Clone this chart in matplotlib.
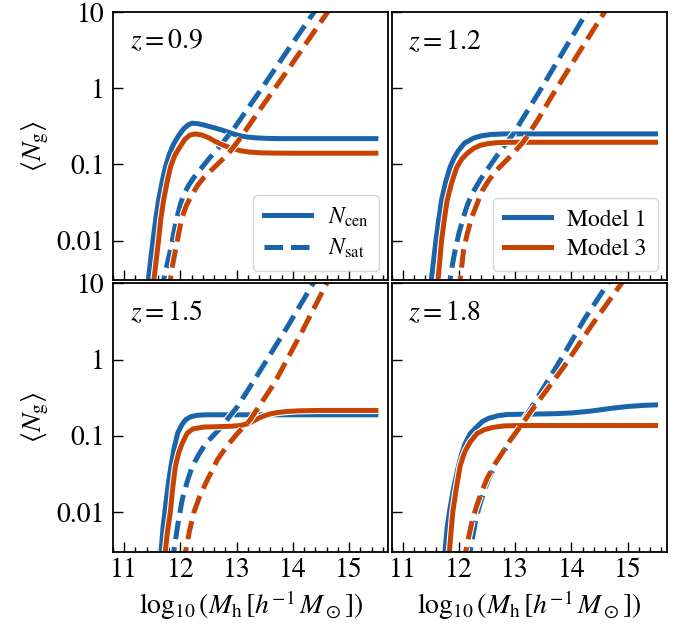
import matplotlib
matplotlib.use('Agg')
import matplotlib.pyplot as plt
import matplotlib.patheffects as pe
from matplotlib.lines import Line2D
from matplotlib.ticker import MultipleLocator, NullLocator, FuncFormatter, LogLocator
import numpy as np

plt.rcParams['font.family'] = 'STIXGeneral'
plt.rcParams['mathtext.fontset'] = 'stix'

blue = '#1964ab'
orange = '#c64304'

redshifts = ['0.9', '1.2', '1.5', '1.8']

# log10 <N>; cen = solid, sat = dashed; 1 = Model 1, 3 = Model 3
# z = 0.9
z09_cen1_x = [11.40, 11.43, 11.47, 11.51, 11.56, 11.61, 11.67, 11.73, 11.8, 11.88, 11.97, 12.06, 12.14, 12.21,
              12.3, 12.4, 12.5, 12.6, 12.72, 12.84, 12.96, 13.08, 13.2, 13.35, 13.55, 13.8, 15.52]
z09_cen1_y = [-2.7, -2.5, -2.25, -2.0, -1.72, -1.47, -1.24, -1.04, -0.87, -0.73, -0.62, -0.53, -0.48, -0.46,
              -0.465, -0.48, -0.5, -0.52, -0.545, -0.575, -0.605, -0.628, -0.642, -0.652, -0.659, -0.662, -0.662]
z09_cen3_x = [11.50, 11.53, 11.57, 11.61, 11.65, 11.70, 11.76, 11.82, 11.9, 12.0, 12.08, 12.17, 12.27, 12.38, 12.5,
              12.62, 12.72, 12.84, 12.96, 13.08, 13.22, 13.4, 13.65, 14.0, 15.52]
z09_cen3_y = [-2.7, -2.5, -2.25, -2.0, -1.72, -1.47, -1.24, -1.04, -0.88, -0.76, -0.67, -0.615, -0.60, -0.615, -0.65,
              -0.7, -0.735, -0.77, -0.8, -0.822, -0.838, -0.847, -0.852, -0.853, -0.853]
z09_sat1_x = [11.67, 11.70, 11.76, 11.82, 11.88, 11.94, 12.0, 12.06, 12.15, 12.24, 12.36, 12.48, 12.58, 12.69, 12.82,
              12.96, 13.43, 13.91, 14.36, 14.5]
z09_sat1_y = [-2.7, -2.52, -2.32, -2.13, -1.9, -1.69, -1.52, -1.39, -1.27, -1.17, -1.06, -0.95, -0.86, -0.77, -0.65,
              -0.52, -0.02, 0.5, 0.98, 1.13]
z09_sat3_x = [11.79, 11.82, 11.86, 11.91, 11.97, 12.03, 12.11, 12.21, 12.31, 12.42, 12.6, 12.84, 13.02, 13.2, 13.49,
              13.91, 14.6, 14.75]
z09_sat3_y = [-2.7, -2.52, -2.32, -2.13, -1.9, -1.69, -1.53, -1.39, -1.27, -1.17, -1.04, -0.87, -0.7, -0.51, -0.2,
              0.24, 0.98, 1.13]
# z = 1.2
z12_cen1_x = [11.48, 11.51, 11.55, 11.59, 11.64, 11.69, 11.76, 11.84, 11.91, 11.99, 12.1, 12.26, 12.4, 12.56, 12.8, 15.54]
z12_cen1_y = [-2.7, -2.5, -2.25, -2.0, -1.72, -1.47, -1.24, -1.04, -0.92, -0.82, -0.72, -0.655, -0.625, -0.608, -0.6, -0.6]
z12_cen3_x = [11.60, 11.63, 11.66, 11.69, 11.74, 11.79, 11.87, 11.96, 12.05, 12.14, 12.26, 12.38, 12.52, 12.68, 12.9, 15.54]
z12_cen3_y = [-2.7, -2.5, -2.25, -2.0, -1.72, -1.47, -1.24, -1.04, -0.93, -0.86, -0.79, -0.75, -0.727, -0.715, -0.71, -0.71]
z12_sat1_x = [11.81, 11.84, 11.88, 11.93, 12.0, 12.08, 12.15, 12.23, 12.38, 12.53, 12.7, 12.97, 13.45, 13.87, 14.26, 14.4]
z12_sat1_y = [-2.7, -2.52, -2.33, -2.13, -1.9, -1.69, -1.53, -1.39, -1.2, -1.04, -0.86, -0.596, -0.02, 0.5, 0.98, 1.15]
z12_sat3_x = [11.99, 12.02, 12.05, 12.08, 12.15, 12.23, 12.32, 12.41, 12.53, 12.65, 12.8, 12.97, 13.15, 13.4, 13.63,
              14.11, 14.59, 14.72]
z12_sat3_y = [-2.7, -2.52, -2.33, -2.13, -1.9, -1.69, -1.52, -1.35, -1.21, -1.09, -0.98, -0.85, -0.70, -0.42, -0.13,
              0.44, 1.0, 1.15]
# z = 1.5
z15_cen1_x = [11.62, 11.655, 11.69, 11.73, 11.78, 11.83, 11.89, 11.95, 12.02, 12.09, 12.18, 12.3, 12.45, 15.52]
z15_cen1_y = [-2.7, -2.52, -2.2, -1.95, -1.65, -1.40, -1.15, -0.965, -0.86, -0.79, -0.75, -0.73, -0.724, -0.724]
z15_cen3_x = [11.70, 11.73, 11.77, 11.82, 11.86, 11.91, 11.97, 12.03, 12.12, 12.22, 12.41, 12.66, 12.9, 13.05, 13.15,
              13.23, 13.31, 13.4, 13.5, 13.6, 13.72, 13.88, 14.1, 14.45, 15.52]
z15_cen3_y = [-2.7, -2.52, -2.25, -2.0, -1.7, -1.4, -1.22, -1.1, -0.965, -0.91, -0.885, -0.88, -0.875, -0.865, -0.85,
              -0.83, -0.8, -0.765, -0.735, -0.712, -0.695, -0.682, -0.672, -0.667, -0.667]
z15_sat1_x = [11.85, 11.88, 11.95, 12.03, 12.12, 12.21, 12.33, 12.45, 12.58, 12.72, 13.02, 13.43, 13.91, 14.36, 14.5]
z15_sat1_y = [-2.7, -2.52, -2.18, -1.84, -1.6, -1.40, -1.24, -1.1, -1.0, -0.89, -0.61, -0.13, 0.44, 1.0, 1.15]
z15_sat3_x = [12.06, 12.09, 12.16, 12.24, 12.34, 12.45, 12.56, 12.66, 12.82, 13.0, 13.23, 13.67, 14.15, 14.6, 14.72]
z15_sat3_y = [-2.7, -2.52, -2.25, -2.0, -1.8, -1.62, -1.46, -1.31, -1.14, -0.98, -0.8, -0.31, 0.35, 1.0, 1.15]
# z = 1.8
z18_cen1_x = [11.72, 11.75, 11.79, 11.83, 11.9, 11.99, 12.05, 12.11, 12.2, 12.32, 12.42, 12.53, 12.7, 12.86, 13.3,
              13.7, 14.0, 14.35, 14.7, 15.0, 15.3, 15.54]
z18_cen1_y = [-2.7, -2.52, -2.2, -2.0, -1.7, -1.4, -1.23, -1.1, -0.97, -0.88, -0.81, -0.77, -0.735, -0.72, -0.715,
              -0.71, -0.70, -0.675, -0.64, -0.615, -0.6, -0.593]
z18_cen3_x = [11.80, 11.83, 11.86, 11.89, 11.95, 12.02, 12.07, 12.11, 12.2, 12.32, 12.45, 12.6, 12.8, 13.1, 15.54]
z18_cen3_y = [-2.7, -2.52, -2.25, -2.0, -1.7, -1.4, -1.28, -1.2, -1.08, -0.97, -0.92, -0.89, -0.87, -0.865, -0.865]
z18_sat1_x = [12.17, 12.2, 12.25, 12.3, 12.36, 12.44, 12.53, 12.66, 12.81, 12.92, 13.03, 13.33, 13.81, 14.23, 14.65, 14.78]
z18_sat1_y = [-2.7, -2.52, -2.3, -2.1, -1.93, -1.74, -1.56, -1.37, -1.19, -1.06, -0.93, -0.58, 0.0, 0.53, 1.0, 1.15]
z18_sat3_x = [12.09, 12.12, 12.18, 12.24, 12.31, 12.4, 12.5, 12.64, 12.8, 12.91, 13.03, 13.33, 13.87, 14.35, 14.89, 15.0]
z18_sat3_y = [-2.7, -2.52, -2.3, -2.1, -1.93, -1.74, -1.56, -1.37, -1.19, -1.06, -0.94, -0.63, -0.09, 0.44, 1.0, 1.12]

panels = [
    (z09_cen1_x, z09_cen1_y, z09_sat1_x, z09_sat1_y, z09_cen3_x, z09_cen3_y, z09_sat3_x, z09_sat3_y),
    (z12_cen1_x, z12_cen1_y, z12_sat1_x, z12_sat1_y, z12_cen3_x, z12_cen3_y, z12_sat3_x, z12_sat3_y),
    (z15_cen1_x, z15_cen1_y, z15_sat1_x, z15_sat1_y, z15_cen3_x, z15_cen3_y, z15_sat3_x, z15_sat3_y),
    (z18_cen1_x, z18_cen1_y, z18_sat1_x, z18_sat1_y, z18_cen3_x, z18_cen3_y, z18_sat3_x, z18_sat3_y),
]

lw = 3.6
outline = [pe.withStroke(linewidth=lw + 1.6, foreground='white')]
style = dict(lw=lw, path_effects=outline, solid_joinstyle='round', dash_joinstyle='round',
             solid_capstyle='butt', dash_capstyle='butt')

fig, axes = plt.subplots(2, 2, figsize=(6.82, 6.3), dpi=100, sharex=True, sharey=True)
fig.subplots_adjust(left=0.1657, right=0.978, top=0.981, bottom=0.124, wspace=0.011, hspace=0.011)

for ax, z, data in zip(axes.flat, redshifts, panels):
    c1x, c1y, s1x, s1y, c3x, c3y, s3x, s3y = data
    ax.plot(c1x, 10 ** np.array(c1y), color=blue, **style)
    ax.plot(s1x, 10 ** np.array(s1y), color=blue, ls='--', **style)
    ax.plot(c3x, 10 ** np.array(c3y), color=orange, **style)
    ax.plot(s3x, 10 ** np.array(s3y), color=orange, ls='--', **style)
    ax.set_yscale('log')
    ax.set_ylim(0.003, 10)
    ax.set_xlim(10.8, 15.7)
    ax.xaxis.set_major_locator(MultipleLocator(1))
    ax.xaxis.set_minor_locator(MultipleLocator(0.2))
    ax.yaxis.set_major_locator(LogLocator(base=10, numticks=10))
    ax.yaxis.set_minor_locator(NullLocator())
    ax.yaxis.set_major_formatter(FuncFormatter(lambda v, p: '%g' % v))
    ax.tick_params(which='both', direction='in', top=False, right=False, width=1.0, labelsize=20)
    ax.tick_params(which='major', length=7)
    ax.tick_params(which='minor', length=3.5)
    ax.tick_params(axis='y', pad=6)
    ax.tick_params(axis='x', pad=4)
    for s in ax.spines.values():
        s.set_linewidth(1.3)
    ax.text(0.06, 0.89, r'$z=%s$' % z, transform=ax.transAxes, fontsize=20, va='center', ha='left')

for ax in axes[:, 0]:
    ax.set_ylabel(r'$\langle N_{\rm g}\rangle$', fontsize=20)
for ax in axes[1, :]:
    ax.set_xlabel(r'$\log_{10}(M_{\rm h}\,[h^{-1}\,M_\odot])$', fontsize=20)

leg_kw = dict(loc='lower right', fontsize=17, handlelength=2.0, labelspacing=0.35, handletextpad=0.7,
              borderpad=0.45, borderaxespad=0.4)
h1 = [Line2D([], [], color=blue, lw=lw), Line2D([], [], color=blue, lw=lw, ls='--')]
axes[0, 0].legend(h1, [r'$N_{\rm cen}$', r'$N_{\rm sat}$'], **leg_kw)
h2 = [Line2D([], [], color=blue, lw=lw), Line2D([], [], color=orange, lw=lw)]
axes[0, 1].legend(h2, ['Model 1', 'Model 3'], **leg_kw)

plt.savefig('out.png', dpi=100)
